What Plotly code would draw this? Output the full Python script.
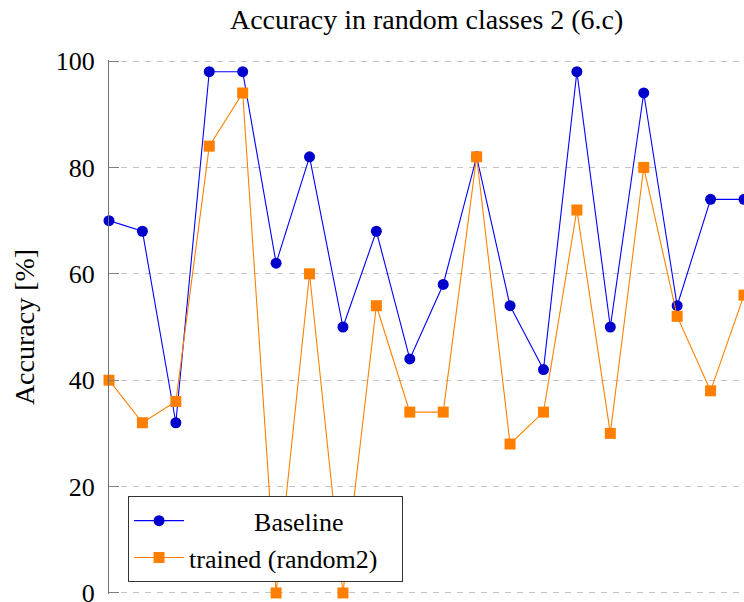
import plotly.graph_objects as go

# Class index along the x axis (20 random classes)
classes = list(range(20))

# Accuracy per class [%]
baseline = [70, 68, 32, 98, 98, 62, 82, 50, 68, 44, 58, 82, 54, 42, 98, 50, 94, 54, 74, 74]
trained_random2 = [40, 32, 36, 84, 94, 0, 60, 0, 54, 34, 34, 82, 28, 34, 72, 30, 80, 52, 38, 56]

y_ticks = [0, 20, 40, 60, 80, 100]

FONT = "Liberation Serif"
FS = 26
pad = "\u00a0" * 10

fig = go.Figure()
fig.add_trace(go.Scatter(
    x=classes, y=baseline, mode="lines+markers", name=pad + "Baseline",
    line=dict(color="#0000ff", width=1.1),
    marker=dict(symbol="circle", size=11, color="#0000cc"),
    cliponaxis=False,
))
fig.add_trace(go.Scatter(
    x=classes, y=trained_random2, mode="lines+markers", name="trained (random2)\u00a0\u00a0\u00a0",
    line=dict(color="#ff8000", width=1.1),
    marker=dict(symbol="square", size=11, color="#ff8000"),
    cliponaxis=False,
))

fig.update_layout(
    width=744, height=602,
    margin=dict(l=109, r=0, t=60, b=8),
    paper_bgcolor="white", plot_bgcolor="white",
    font=dict(family=FONT, size=FS, color="black"),
    title=dict(text="Accuracy in random classes 2 (6.c)", x=0.5735, xanchor="center",
               y=0.968, yanchor="middle", font=dict(family=FONT, size=28)),
    showlegend=True,
    legend=dict(x=0.03, y=0.022, xanchor="left", yanchor="bottom",
                bordercolor="#333333", borderwidth=1, bgcolor="white",
                font=dict(family=FONT, size=26), tracegroupgap=0, itemwidth=50),
    xaxis=dict(range=[0, 19], showticklabels=False, showgrid=False, zeroline=False,
               showline=False, ticks="", automargin=False),
    yaxis=dict(range=[-0.2, 100.2], tickvals=y_ticks, showgrid=True, gridcolor="#c4c4c4",
               griddash="6px,6px", gridwidth=1, zeroline=False,
               showline=True, linecolor="#707070", linewidth=1.3,
               ticks="inside", ticklen=10, tickcolor="#808080", tickwidth=1,
               ticklabelstandoff=8, ticklabeloverflow="allow", automargin=False,
               title=dict(text="Accuracy [%]", standoff=12, font=dict(family=FONT, size=28))),
    yaxis2=dict(range=[-0.2, 100.2], tickvals=y_ticks, overlaying="y", side="right",
                showticklabels=False, showgrid=False, zeroline=False, showline=False,
                ticks="inside", ticklen=10, tickcolor="#606060", tickwidth=1,
                automargin=False),
)

fig.write_html("out.html")
